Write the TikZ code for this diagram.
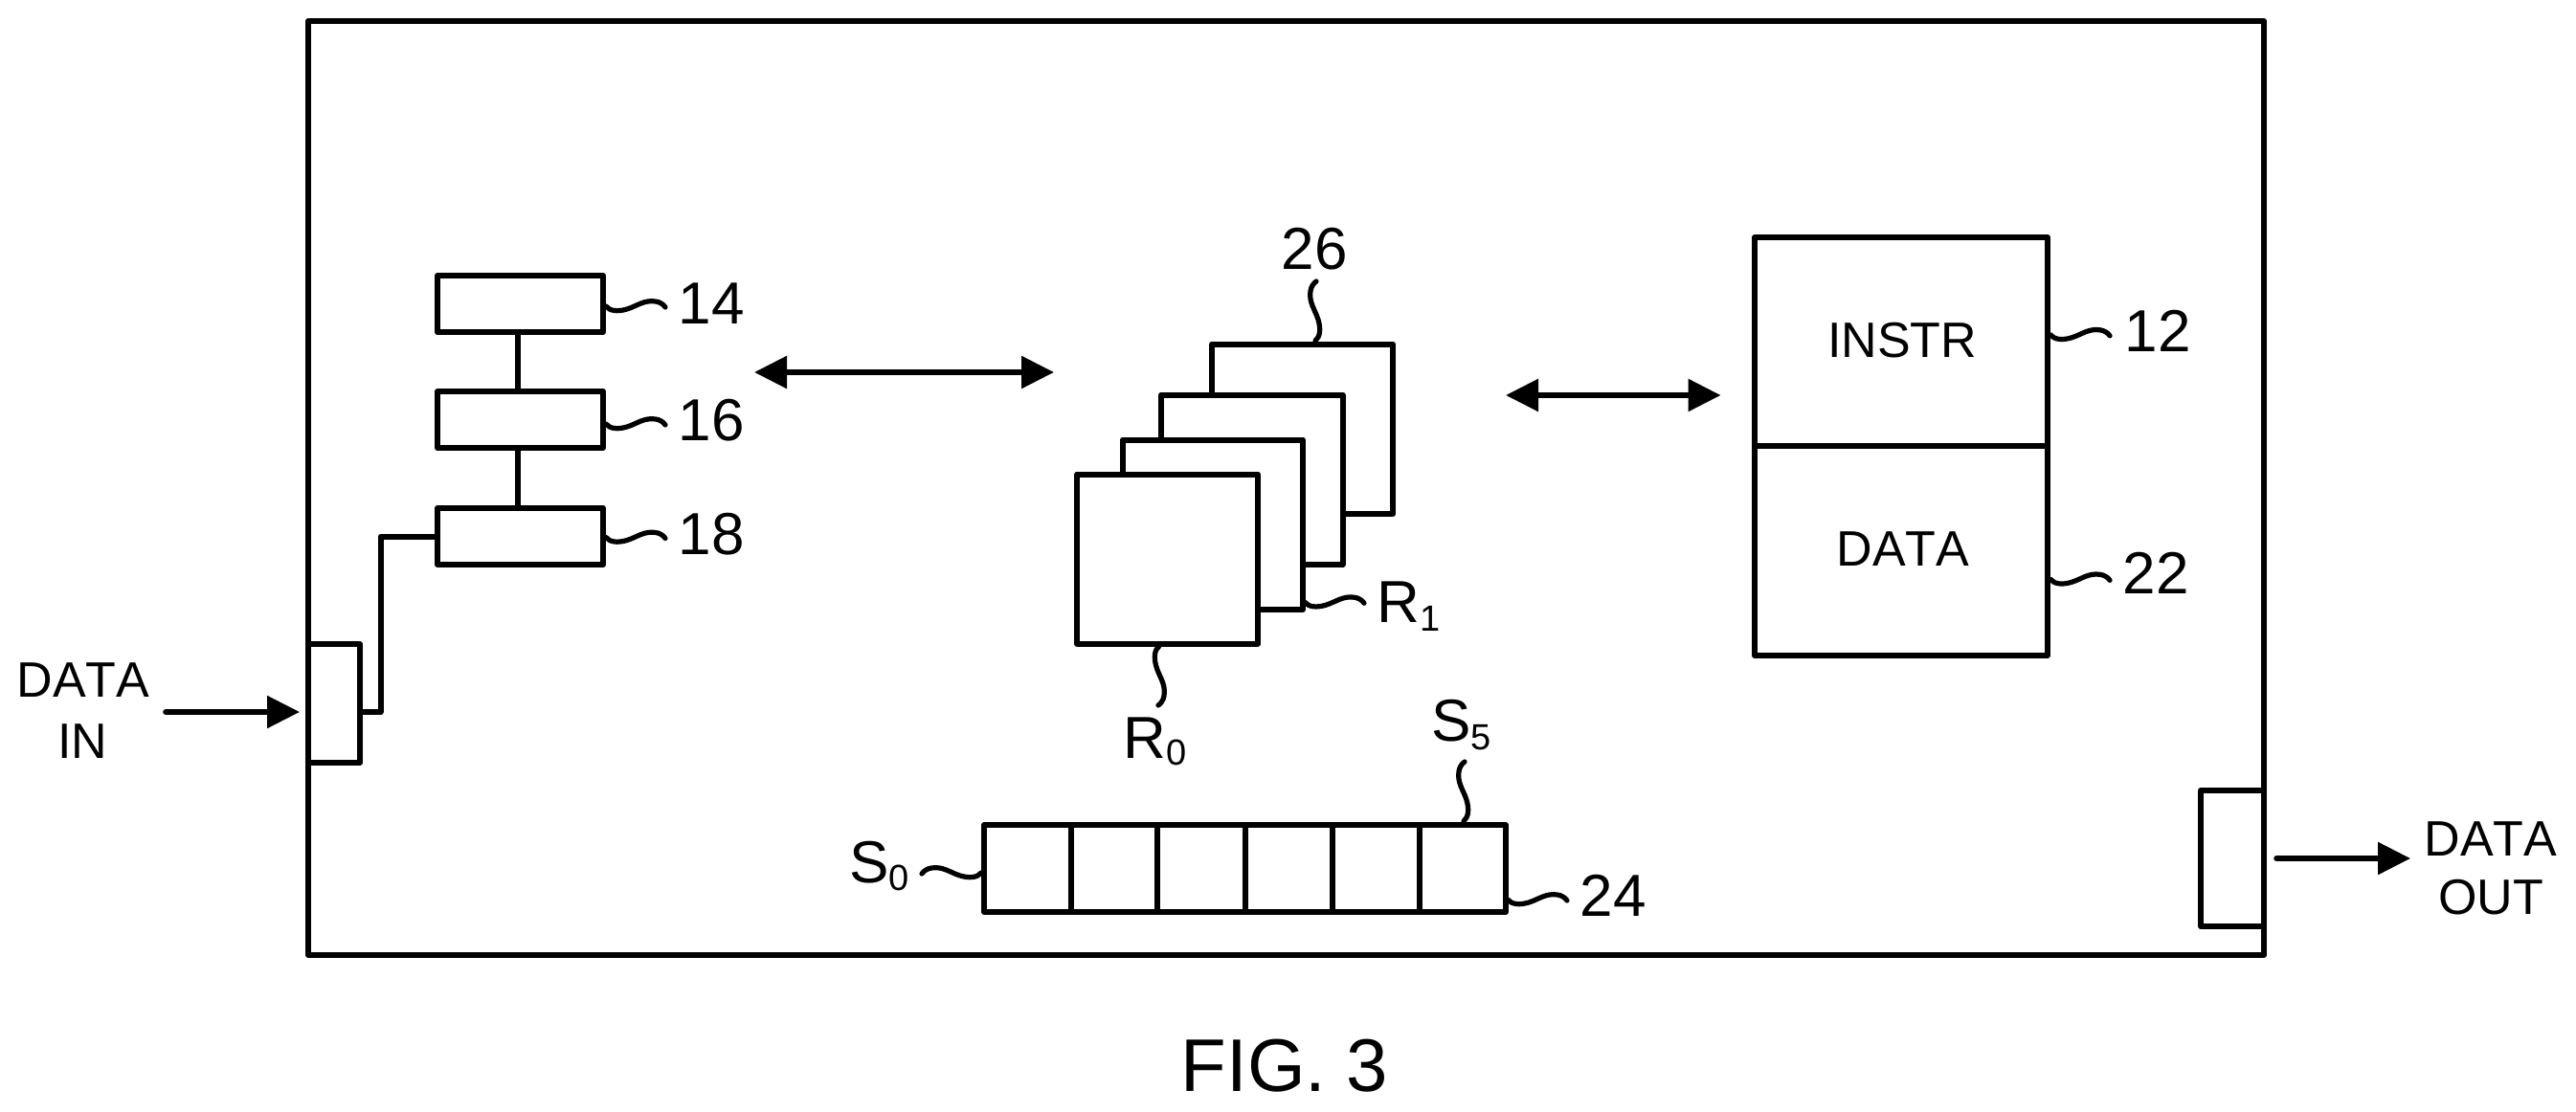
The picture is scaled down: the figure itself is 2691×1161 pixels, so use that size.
\documentclass[tikz,border=0pt]{standalone}
\usepackage{fontspec}
\setmainfont[Kerning=Off]{Liberation Sans}
\usetikzlibrary{arrows.meta}
\newcommand{\bx}[5]{\node[bxs,minimum width={(#4-#2)*0.5pt},minimum height={(#5-#3)*0.5pt}] (#1) at ({(#2+#4)/2},{(#3+#5)/2}) {};}
\newcommand{\sbs}[2]{{\fontsize{19pt}{19pt}\selectfont\raisebox{-#1pt}{#2}}}
\tikzset{
  x=0.5pt,y=-0.5pt,
  bxs/.style={draw=black,fill=white,line width=3pt,inner sep=0pt,outer sep=0pt,line join=round},
  wire/.style={draw=black,line width=3pt,line join=round},
  leadline/.style={draw=black,line width=2.6pt,line cap=round},
  arrw/.style={draw=black,line width=2.8pt,line cap=round,-{Triangle[length=17pt,width=16.5pt]}},
  darrw/.style={draw=black,line width=2.8pt,{Triangle[length=17pt,width=16.5pt]}-{Triangle[length=17pt,width=16.5pt]}},
  txts/.style={inner sep=0pt,anchor=base,font=\fontsize{26pt}{26pt}\selectfont},
  txtn/.style={inner sep=0pt,anchor=base,font=\fontsize{31pt}{31pt}\selectfont},
  txtw/.style={inner sep=0pt,anchor=base west,font=\fontsize{31pt}{31pt}\selectfont},
  txtf/.style={inner sep=0pt,anchor=base,font=\fontsize{39pt}{39pt}\selectfont},
  wiggle/.pic={\draw[leadline] (0,0) .. controls (4,5) and (12,6) .. (22,3) .. controls (32,0) and (40,-7) .. (52,-5) .. controls (56,-4.5) and (60,-2) .. (62,1);}
}
\begin{document}
\begin{tikzpicture}
\useasboundingbox (0,0) rectangle (2691,1161);
% outer frame
\bx{frame}{322}{22}{2365}{998}
% ports
\bx{inp}{322}{673}{376}{797}
\bx{outp}{2299}{826}{2365}{968}
% left column
\bx{b14}{457}{288}{630}{347}
\bx{b16}{457}{409}{630}{468}
\bx{b18}{457}{531}{630}{590}
\draw[wire] ([xshift=-1.25pt]b14.south) -- ([xshift=-1.25pt]b16.north);
\draw[wire] ([xshift=-1.25pt]b16.south) -- ([xshift=-1.25pt]b18.north);
\coordinate (inw) at (376,744);
\coordinate (bend) at (397.5,560.5);
\draw[wire] (inw) -| (bend) -- (b18.west);
% register stack
\bx{ra}{1266}{359.5}{1455}{537}
\bx{rb}{1213}{412.5}{1402.5}{590}
\bx{rc}{1172.5}{459.5}{1361}{637}
\bx{rd}{1125}{495.5}{1314}{672.5}
% memory
\bx{instr}{1833}{248}{2139}{465.7}
\bx{datab}{1833}{465.7}{2139}{685}
% shift register
\bx{s0}{1028}{862}{1118.7}{953}
\bx{s1}{1118.7}{862}{1209}{953}
\bx{s2}{1209}{862}{1300.6}{953}
\bx{s3}{1300.6}{862}{1392}{953}
\bx{s4}{1392}{862}{1483}{953}
\bx{s5}{1483}{862}{1573}{953}
% arrows
\coordinate (ina) at (173,744);
\coordinate (inb) at (313,744);
\draw[arrw] (ina) -- (inb);
\coordinate (outa) at (2378,897);
\coordinate (outb) at (2518,897);
\draw[arrw] (outa) -- (outb);
\coordinate (m1a) at (788,389);
\coordinate (m1b) at (1101,389);
\draw[darrw] (m1a) -- (m1b);
\coordinate (m2a) at (1573,413);
\coordinate (m2b) at (1797.5,413);
\draw[darrw] (m2a) -- (m2b);
% leaders
\pic at ([shift={(3,2.5)}]b14.east) {wiggle};
\pic at ([shift={(3,4.5)}]b16.east) {wiggle};
\pic at ([shift={(3,1)}]b18.east) {wiggle};
\pic at ([shift={(3,-7)}]instr.east) {wiggle};
\pic at ([shift={(3,30)}]datab.east) {wiggle};
\pic at ([shift={(2,81)}]rc.east) {wiggle};
\pic at ([shift={(2,32.5)}]s5.east) {wiggle};
\pic[xscale=-1] at ([shift={(-3,4.5)}]s0.west) {wiggle};
\pic[rotate=90] at ([shift={(13.5,-3.5)}]ra.north) {wiggle};
\pic[rotate=90] at ([shift={(1,-4)}]s5.north) {wiggle};
\pic[rotate=-90] at ([shift={(-8.5,2.5)}]rd.south) {wiggle};
% texts
\node[txts] (tdi1) at (87,728) {DATA};
\node[txts] (tdi2) at (86,792) {IN};
\node[txts] (tdo1) at (2602,894) {DATA};
\node[txts] (tdo2) at (2602,955) {OUT};
\node[txts] (tinstr) at (1987,373) {INSTR};
\node[txts] (tdata) at (1988,591) {DATA};
\node[txtn] (t14) at (743,338) {14};
\node[txtn] (t16) at (743,460) {16};
\node[txtn] (t18) at (743,579) {18};
\node[txtn] (t26) at (1373,281) {26};
\node[txtn] (t12) at (2254,367) {12};
\node[txtn] (t22) at (2252,620) {22};
\node[txtn] (t24) at (1685,957) {24};
\node[txtw] (tr0) at (1173,792) {R\sbs{3.75}{0}};
\node[txtw] (tr1) at (1438,650) {R\sbs{4.5}{1}};
\node[txtw] (ts5) at (1495,774) {S\sbs{4.5}{5}};
\node[txtw] (ts0) at (887,922) {S\sbs{4}{0}};
\node[txtf] (tfig) at (1342,1140) {FIG. 3};
\end{tikzpicture}
\end{document}
